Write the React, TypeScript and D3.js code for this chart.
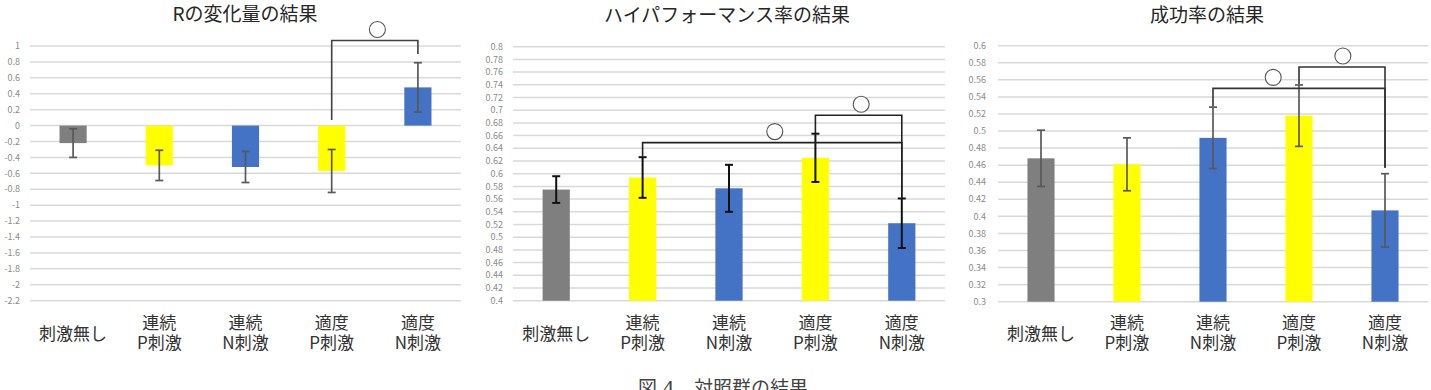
import * as d3 from "d3";
import { useEffect, useRef } from "react";

const categories = [["刺激無し"], ["連続", "P刺激"], ["連続", "N刺激"], ["適度", "P刺激"], ["適度", "N刺激"]];
const barColors = ["#7f7f7f", "#ffff00", "#4472c4", "#ffff00", "#4472c4"];

// Rの変化量
const rTitle = "Rの変化量の結果";
const rMeans = [-0.22, -0.5, -0.52, -0.57, 0.48];
const rErrors = [0.18, 0.19, 0.195, 0.27, 0.31];
const rTicks = [1, 0.8, 0.6, 0.4, 0.2, 0, -0.2, -0.4, -0.6, -0.8, -1, -1.2, -1.4, -1.6, -1.8, -2, -2.2];
const rBrackets = [{ from: 3, to: 4, level: 1.07, fromEnd: 0.07, toEnd: 0.9, mark: 0.53 }];

// ハイパフォーマンス率
const hpTitle = "ハイパフォーマンス率の結果";
const hpMeans = [0.575, 0.594, 0.577, 0.625, 0.522];
const hpErrors = [0.021, 0.032, 0.037, 0.038, 0.039];
const hpTicks = [0.8, 0.78, 0.76, 0.74, 0.72, 0.7, 0.68, 0.66, 0.64, 0.62, 0.6, 0.58, 0.56, 0.54, 0.52, 0.5, 0.48, 0.46, 0.44, 0.42, 0.4];
const hpBrackets = [
  { from: 1, to: 4, level: 0.649, fromEnd: 0.627, toEnd: 0.561, mark: 0.51 },
  { from: 3, to: 4, level: 0.692, fromEnd: 0.664, toEnd: 0.561, mark: 0.53 },
];

// 成功率
const srTitle = "成功率の結果";
const srMeans = [0.468, 0.461, 0.492, 0.518, 0.407];
const srErrors = [0.033, 0.031, 0.036, 0.036, 0.043];
const srTicks = [0.6, 0.58, 0.56, 0.54, 0.52, 0.5, 0.48, 0.46, 0.44, 0.42, 0.4, 0.38, 0.36, 0.34, 0.32, 0.3];
const srBrackets = [
  { from: 2, to: 4, level: 0.55, fromEnd: 0.529, toEnd: 0.457, mark: 0.35 },
  { from: 3, to: 4, level: 0.575, fromEnd: 0.555, toEnd: 0.457, mark: 0.51 },
];

const caption = "図 4　対照群の結果";

const jp = "'Noto Sans CJK JP', 'Noto Sans', sans-serif";

export default function App() {
  const ref = useRef<SVGSVGElement>(null);

  useEffect(() => {
    const width = 1431;
    const height = 390;
    const svg = d3.select(ref.current);
    svg.selectAll("*").remove();
    svg.attr("width", width).attr("height", height);

    svg.append("rect").attr("width", width).attr("height", height).attr("fill", "#fff");

    const panels = [
      {
        title: rTitle, means: rMeans, errors: rErrors, ticks: rTicks, brackets: rBrackets,
        x0: 30, x1: 461, yMax: 1, yMin: -2.2, yTop: 46, yBot: 300.7, tickX: 20,
        titleX: 245, titleY: 21, errColor: "#595959", errWidth: 1.7, brColor: "#404040",
      },
      {
        title: hpTitle, means: hpMeans, errors: hpErrors, ticks: hpTicks, brackets: hpBrackets,
        x0: 513, x1: 945, yMax: 0.8, yMin: 0.4, yTop: 46.7, yBot: 300.7, tickX: 503,
        titleX: 727, titleY: 22, errColor: "#111", errWidth: 2, brColor: "#222",
      },
      {
        title: srTitle, means: srMeans, errors: srErrors, ticks: srTicks, brackets: srBrackets,
        x0: 998, x1: 1428, yMax: 0.6, yMin: 0.3, yTop: 45.7, yBot: 301.7, tickX: 986,
        titleX: 1207, titleY: 22, errColor: "#595959", errWidth: 1.7, brColor: "#333",
      },
    ];

    const fmt = (v: number) => d3.format("~g")(+v.toFixed(2)).replace("−", "-");

    panels.forEach(p => {
      const g = svg.append("g");

      const x = d3.scaleBand<number>()
        .domain(d3.range(categories.length))
        .range([p.x0, p.x1]);
      const y = d3.scaleLinear().domain([p.yMin, p.yMax]).range([p.yBot, p.yTop]);
      const barW = x.bandwidth() * 0.315;
      const cx = (i: number) => (x(i) ?? 0) + x.bandwidth() / 2;

      // title
      g.append("text")
        .attr("x", p.titleX)
        .attr("y", p.titleY)
        .attr("text-anchor", "middle")
        .attr("font-family", jp)
        .attr("font-size", 19)
        .attr("fill", "#262626")
        .text(p.title);

      // gridlines
      g.selectAll("line.grid")
        .data(p.ticks)
        .enter()
        .append("line")
        .attr("x1", p.x0)
        .attr("x2", p.x1)
        .attr("y1", d => y(d))
        .attr("y2", d => y(d))
        .attr("stroke", "#d9d9d9")
        .attr("stroke-width", 1.5);

      // tick labels
      g.selectAll("text.tick")
        .data(p.ticks)
        .enter()
        .append("text")
        .attr("x", p.tickX)
        .attr("y", d => y(d))
        .attr("dy", "0.35em")
        .attr("text-anchor", "end")
        .attr("font-family", jp)
        .attr("font-size", 9)
        .attr("fill", "#8c8c8c")
        .text(d => fmt(d));

      // bars (from 0, or from the axis floor when it is above 0)
      const baseVal = p.yMin > 0 ? p.yMin : 0;
      g.selectAll("rect.bar")
        .data(p.means)
        .enter()
        .append("rect")
        .attr("x", (_, i) => cx(i) - barW / 2)
        .attr("y", d => Math.min(y(d), y(baseVal)))
        .attr("width", barW)
        .attr("height", d => Math.abs(y(d) - y(baseVal)))
        .attr("fill", (_, i) => barColors[i]);

      // error bars
      const cap = 4;
      p.means.forEach((m, i) => {
        const e = p.errors[i];
        const xc = cx(i);
        const eg = g.append("g")
          .attr("stroke", p.errColor)
          .attr("stroke-width", p.errWidth);
        eg.append("line").attr("x1", xc).attr("x2", xc).attr("y1", y(m + e)).attr("y2", y(m - e));
        eg.append("line").attr("x1", xc - cap).attr("x2", xc + cap).attr("y1", y(m + e)).attr("y2", y(m + e));
        eg.append("line").attr("x1", xc - cap).attr("x2", xc + cap).attr("y1", y(m - e)).attr("y2", y(m - e));
      });

      // significance brackets
      p.brackets.forEach(b => {
        const xa = cx(b.from);
        const xb = cx(b.to);
        const ly = y(b.level);
        g.append("path")
          .attr("d", `M${xa},${y(b.fromEnd)}V${ly}H${xb}V${y(b.toEnd)}`)
          .attr("fill", "none")
          .attr("stroke", p.brColor)
          .attr("stroke-width", 1.6);
        g.append("circle")
          .attr("cx", xa + (xb - xa) * b.mark)
          .attr("cy", ly - 11)
          .attr("r", 8)
          .attr("fill", "#fff")
          .attr("stroke", "#555")
          .attr("stroke-width", 1.1);
      });

      // category labels
      categories.forEach((lines, i) => {
        if (lines.length === 1) {
          g.append("text")
            .attr("x", cx(i)).attr("y", 340)
            .attr("text-anchor", "middle")
            .attr("font-family", jp)
            .attr("font-size", 17)
            .attr("fill", "#333")
            .text(lines[0]);
        } else {
          lines.forEach((ln, k) => {
            g.append("text")
              .attr("x", cx(i)).attr("y", 329 + k * 20)
              .attr("text-anchor", "middle")
              .attr("font-family", jp)
              .attr("font-size", 17)
              .attr("fill", "#333")
              .text(ln);
          });
        }
      });
    });

    // figure caption (cut by the bottom edge, as in the source page)
    svg.append("text")
      .attr("x", 723)
      .attr("y", 395)
      .attr("text-anchor", "middle")
      .attr("font-family", "'DejaVu Serif', 'Noto Sans CJK JP', serif")
      .attr("font-size", 19)
      .attr("fill", "#444")
      .text(caption);
  }, []);

  return (
    <div style={{ position: "absolute", left: 0, top: 0 }}>
      <svg ref={ref} style={{ display: "block" }} />
    </div>
  );
}
